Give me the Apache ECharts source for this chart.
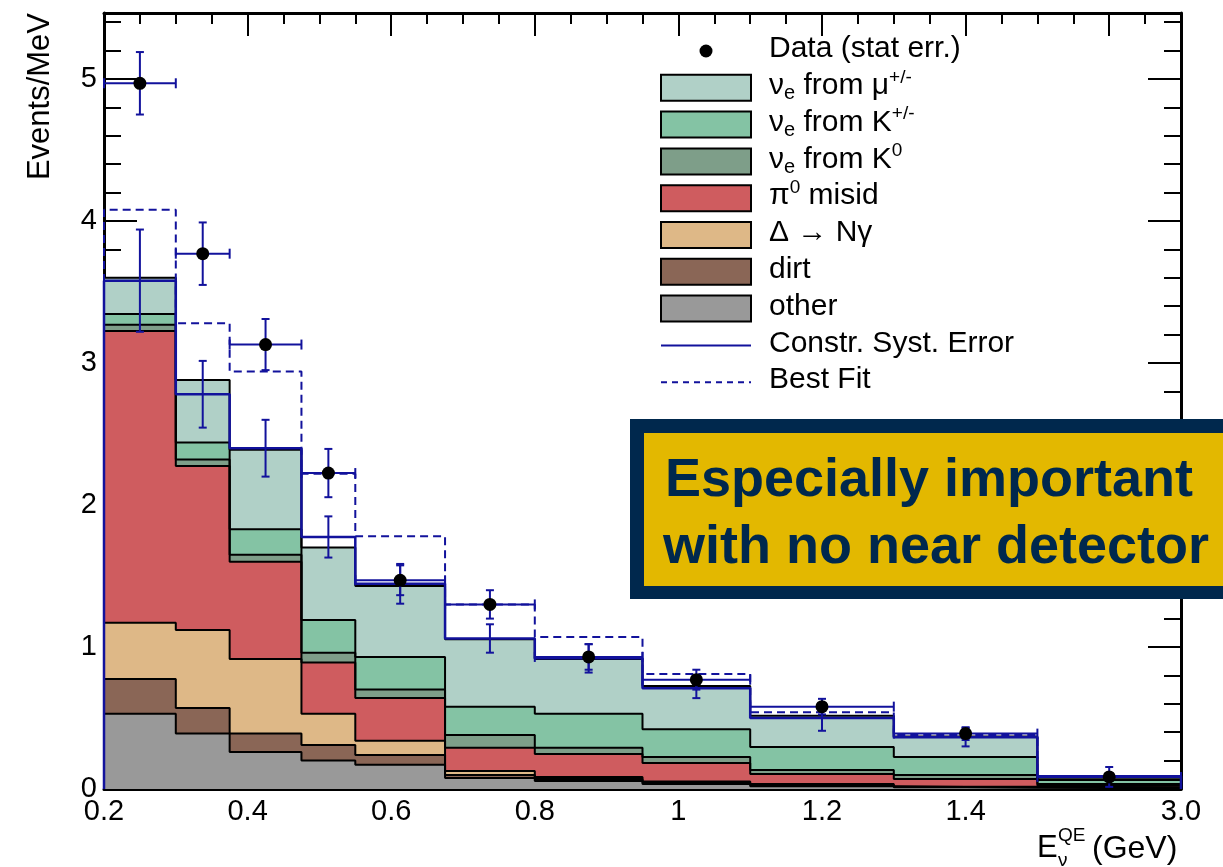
<!DOCTYPE html>
<html>
<head>
<meta charset="utf-8">
<script src="https://cdn.jsdelivr.net/npm/echarts@6/dist/echarts.min.js"></script>
<style>
html,body{margin:0;padding:0;background:#fff}
#chart{width:1223px;height:867px}
</style>
</head>
<body>
<div id="chart"></div>
<script>
// bin edges (GeV) - last bin 1.5-3.0 is squeezed on the axis
var binEdges = [0.2, 0.3, 0.375, 0.475, 0.55, 0.675, 0.8, 0.95, 1.1, 1.3, 1.5, 3.0];

// MC components, events/MeV, bottom of the stack first
var other   = [0.53, 0.39, 0.26, 0.20, 0.17, 0.077, 0.056, 0.035, 0.020, 0.008, 0.005];
var dirt    = [0.245, 0.18, 0.13, 0.11, 0.07, 0.022, 0.014, 0.010, 0.008, 0.004, 0.004];
var deltaNg = [0.395, 0.55, 0.525, 0.22, 0.10, 0.028, 0.015, 0.007, 0.007, 0.003, 0.004];
var pi0Mis  = [2.055, 1.155, 0.685, 0.36, 0.30, 0.163, 0.162, 0.131, 0.070, 0.055, 0.012];
var nueK0   = [0.045, 0.045, 0.05, 0.07, 0.06, 0.09, 0.043, 0.042, 0.029, 0.029, 0.010];
var nueKpm  = [0.075, 0.12, 0.18, 0.23, 0.23, 0.20, 0.24, 0.195, 0.162, 0.126, 0.028];
var nueMu   = [0.255, 0.44, 0.56, 0.51, 0.50, 0.475, 0.385, 0.305, 0.219, 0.145, 0.017];

// data points with stat errors
var dataVal = [4.97, 3.77, 3.13, 2.225, 1.47, 1.30, 0.93, 0.77, 0.58, 0.39, 0.085];
var dataErr = [0.22, 0.22, 0.18, 0.17, 0.105, 0.10, 0.09, 0.07, 0.055, 0.045, 0.07];

// constrained prediction with syst error, and best fit
var systVal = [3.58, 2.78, 2.40, 1.775, 1.445, 1.06, 0.92, 0.71, 0.50, 0.365, 0.09];
var systErr = [0.36, 0.235, 0.20, 0.145, 0.14, 0.10, 0.10, 0.07, 0.09, 0.065, 0.01];
var bestFit = [4.08, 3.28, 2.94, 2.22, 1.78, 1.30, 1.07, 0.81, 0.54, 0.38, 0.09];

// tick labels
var xTickGeV = [0.2, 0.4, 0.6, 0.8, 1.0, 1.2, 1.4, 3.0];
var xTickLabels = ['0.2', '0.4', '0.6', '0.8', '1', '1.2', '1.4', '3.0'];

var layerNames = ['other', 'dirt', 'Δ → Nγ', 'π0 misid', 'νe from K0', 'νe from K+/-', 'νe from μ+/-'];
var layerColors = ['#999999', '#8a6656', '#deb887', '#cf5c5f', '#7e9e89', '#84c3a4', '#b0d0c7'];
var BLUE = '#12129c';
var FONT = '"Liberation Sans", Arial, Helvetica, sans-serif';

// axis position: linear up to 1.5 GeV, last bin squeezed into 0.2 units
function axisPos(e) {
    return e <= 1.5 ? e : 1.5 + (e - 1.5) * 0.2 / 1.5;
}
var xMax = axisPos(3.0);

function stepPoints(vals, closed) {
    var pts = vals.map(function (v, i) { return [axisPos(binEdges[i]), v]; });
    pts.push([axisPos(binEdges[vals.length]), vals[vals.length - 1]]);
    if (closed) {
        pts.unshift([axisPos(binEdges[0]), 0]);
        pts.push([axisPos(binEdges[vals.length]), 0]);
    }
    return pts;
}

var components = [other, dirt, deltaNg, pi0Mis, nueK0, nueKpm, nueMu];
var cumul = [];
components.forEach(function (c, k) {
    cumul.push(c.map(function (v, i) { return (k ? cumul[k - 1][i] : 0) + v; }));
});

var series = [];
for (var k = components.length - 1; k >= 0; k--) {
    series.push({
        type: 'line', name: layerNames[k], step: 'end', symbol: 'none', silent: true, z: 2,
        data: stepPoints(cumul[k], false),
        lineStyle: {color: '#000', width: 2},
        areaStyle: {color: layerColors[k], opacity: 1}
    });
}
series.push({
    type: 'line', name: 'Constr. Syst. Error', step: 'end', symbol: 'none', silent: true, z: 3,
    data: stepPoints(systVal, true),
    lineStyle: {color: BLUE, width: 2.5}
});
series.push({
    type: 'line', name: 'Best Fit', step: 'end', symbol: 'none', silent: true, z: 3,
    data: stepPoints(bestFit, true),
    lineStyle: {color: BLUE, width: 2, type: [8, 5]}
});

function binCenter(i) {
    return (axisPos(binEdges[i]) + axisPos(binEdges[i + 1])) / 2;
}

// syst error bars
series.push({
    type: 'custom', z: 4, silent: true,
    data: systVal.map(function (v, i) { return [binCenter(i), v, systErr[i]]; }),
    encode: {x: 0, y: 1},
    renderItem: function (params, api) {
        var x = api.value(0), y = api.value(1), e = api.value(2);
        var t = api.coord([x, y + e]), b = api.coord([x, y - e]);
        var st = {stroke: BLUE, lineWidth: 2};
        return {type: 'group', children: [
            {type: 'line', shape: {x1: t[0], y1: t[1], x2: b[0], y2: b[1]}, style: st},
            {type: 'line', shape: {x1: t[0] - 4, y1: t[1], x2: t[0] + 4, y2: t[1]}, style: st},
            {type: 'line', shape: {x1: b[0] - 4, y1: b[1], x2: b[0] + 4, y2: b[1]}, style: st}
        ]};
    }
});

// data points
series.push({
    type: 'custom', z: 5, silent: true,
    data: dataVal.map(function (v, i) {
        return [binCenter(i), v, dataErr[i], axisPos(binEdges[i]), axisPos(binEdges[i + 1])];
    }),
    encode: {x: 0, y: 1},
    renderItem: function (params, api) {
        var x = api.value(0), y = api.value(1), e = api.value(2);
        var c = api.coord([x, y]);
        var lo = api.coord([api.value(3), y]), hi = api.coord([api.value(4), y]);
        var t = api.coord([x, y + e]), b = api.coord([x, y - e]);
        var st = {stroke: BLUE, lineWidth: 2};
        return {type: 'group', children: [
            {type: 'line', shape: {x1: lo[0], y1: lo[1], x2: hi[0], y2: hi[1]}, style: st},
            {type: 'line', shape: {x1: lo[0], y1: lo[1] - 5, x2: lo[0], y2: lo[1] + 5}, style: st},
            {type: 'line', shape: {x1: hi[0], y1: hi[1] - 5, x2: hi[0], y2: hi[1] + 5}, style: st},
            {type: 'line', shape: {x1: t[0], y1: t[1], x2: b[0], y2: b[1]}, style: st},
            {type: 'line', shape: {x1: t[0] - 4, y1: t[1], x2: t[0] + 4, y2: t[1]}, style: st},
            {type: 'line', shape: {x1: b[0] - 4, y1: b[1], x2: b[0] + 4, y2: b[1]}, style: st},
            {type: 'circle', shape: {cx: c[0], cy: c[1], r: 6.5}, style: {fill: '#000'}}
        ]};
    }
});

// legend built by hand (ROOT style)
var legendLabels = [
    'Data (stat err.)',
    'ν{sub|e} from μ{sup|+/-}',
    'ν{sub|e} from K{sup|+/-}',
    'ν{sub|e} from K{sup|0}',
    'π{sup|0} misid',
    'Δ → Nγ',
    'dirt',
    'other',
    'Constr. Syst. Error',
    'Best Fit'
];
var legendKinds = ['dot', 'box', 'box', 'box', 'box', 'box', 'box', 'box', 'line', 'dash'];
var legendBoxColors = layerColors.slice().reverse();

var legend = [];
legendLabels.forEach(function (lab, i) {
    var cy = 51 + i * 36.8;
    var kind = legendKinds[i];
    if (kind === 'dot') {
        legend.push({type: 'circle', shape: {cx: 706, cy: cy, r: 6.5}, style: {fill: '#000'}});
    } else if (kind === 'box') {
        legend.push({type: 'rect', shape: {x: 661, y: cy - 13, width: 90, height: 26},
            style: {fill: legendBoxColors[i - 1], stroke: '#000', lineWidth: 2}});
    } else {
        legend.push({type: 'line', shape: {x1: 661, y1: cy, x2: 751, y2: cy},
            style: {stroke: BLUE, lineWidth: 2, lineDash: kind === 'dash' ? [6, 5] : null}});
    }
    legend.push({type: 'text', style: {
        text: lab, x: 769, y: cy - 2, verticalAlign: 'middle', fill: '#000',
        fontSize: 30, fontFamily: FONT, lineHeight: 36,
        rich: {
            sub: {fontSize: 20, fontFamily: FONT, lineHeight: 20, verticalAlign: 'bottom'},
            sup: {fontSize: 19, fontFamily: FONT, lineHeight: 20, verticalAlign: 'top'}
        }
    }});
});

var tickStyle = {color: '#000', width: 2};
function frameAxis(pos, interval, len, withLine) {
    return {
        type: 'value', position: pos, interval: interval,
        axisLine: {show: withLine, onZero: false, lineStyle: {color: '#000', width: 3}},
        axisTick: {show: true, inside: true, length: len, lineStyle: tickStyle},
        axisLabel: {show: false}, splitLine: {show: false}
    };
}

var xTop = frameAxis('top', 0.2, 23, true);
var xTopMinor = frameAxis('top', 0.05, 11, false);
[xTop, xTopMinor].forEach(function (a) { a.min = 0.2; a.max = xMax; });
var yLeftMinor = frameAxis('left', 0.2, 17, false);
var yRight = frameAxis('right', 1, 33, true);
var yRightMinor = frameAxis('right', 0.2, 17, false);
[yLeftMinor, yRight, yRightMinor].forEach(function (a) { a.min = 0; a.max = 5.465; });

var chart = echarts.init(document.getElementById('chart'));
var option = {
    animation: false,
    backgroundColor: '#fff',
    grid: {left: 104, right: 42, top: 13, bottom: 78, containLabel: false},
    xAxis: [
        {
            type: 'value', position: 'bottom', min: 0.2, max: xMax,
            axisLine: {show: true, onZero: false, lineStyle: {color: '#000', width: 3}},
            axisTick: {show: false},
            splitLine: {show: false},
            axisLabel: {
                color: '#000', fontSize: 29, fontFamily: FONT, margin: 8,
                customValues: xTickGeV.map(axisPos),
                formatter: function (v) {
                    for (var i = 0; i < xTickGeV.length; i++) {
                        if (Math.abs(axisPos(xTickGeV[i]) - v) < 1e-6) return xTickLabels[i];
                    }
                    return '';
                }
            }
        },
        xTop,
        xTopMinor
    ],
    yAxis: [
        {
            type: 'value', position: 'left', min: 0, max: 5.465, interval: 1,
            axisLine: {show: true, onZero: false, lineStyle: {color: '#000', width: 3}},
            axisTick: {show: true, inside: true, length: 33, lineStyle: tickStyle},
            axisLabel: {
                color: '#000', fontSize: 29, fontFamily: FONT, margin: 7,
                formatter: function (v) { return v > 5.01 ? '' : String(v); }
            },
            splitLine: {show: false}
        },
        yLeftMinor,
        yRight,
        yRightMinor
    ],
    series: series,
    graphic: [
        {type: 'group', children: legend, z: 50},
        // y axis title
        {type: 'text', x: 40, y: 13, rotation: Math.PI / 2, z: 50, style: {
            text: 'Events/MeV', textAlign: 'right', verticalAlign: 'middle',
            fontSize: 31, fontFamily: FONT, fill: '#000'}},
        // x axis title
        {type: 'text', z: 50, style: {text: 'E', x: 1037, y: 848, verticalAlign: 'middle',
            fontSize: 31, fontFamily: FONT, fill: '#000'}},
        {type: 'text', z: 50, style: {text: 'QE', x: 1058, y: 836, verticalAlign: 'middle',
            fontSize: 19, fontFamily: FONT, fill: '#000'}},
        {type: 'text', z: 50, style: {text: 'ν', x: 1058, y: 861, verticalAlign: 'middle',
            fontSize: 19, fontFamily: FONT, fill: '#000'}},
        {type: 'text', z: 50, style: {text: '(GeV)', x: 1092, y: 849, verticalAlign: 'middle',
            fontSize: 32, fontFamily: FONT, fill: '#000'}},
        // callout box
        {type: 'rect', z: 60, shape: {x: 630, y: 419, width: 620, height: 180}, style: {fill: '#00284d'}},
        {type: 'rect', z: 61, shape: {x: 644, y: 433, width: 600, height: 153}, style: {fill: '#e3b800'}},
        {type: 'text', z: 62, style: {text: 'Especially important', x: 929, y: 481,
            textAlign: 'center', verticalAlign: 'middle', fontSize: 54, fontWeight: 'bold',
            fontFamily: FONT, fill: '#00284d'}},
        {type: 'text', z: 62, style: {text: 'with no near detector', x: 936, y: 548,
            textAlign: 'center', verticalAlign: 'middle', fontSize: 54, fontWeight: 'bold',
            fontFamily: FONT, fill: '#00284d'}}
    ]
};
chart.setOption(option);
</script>
</body>
</html>
